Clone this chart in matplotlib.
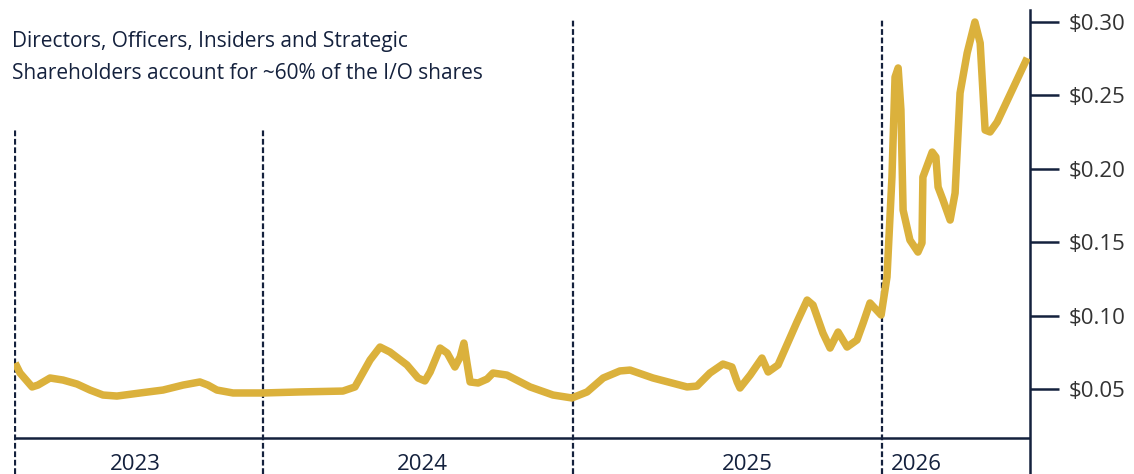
import matplotlib.pyplot as plt

plt.rcParams['font.family'] = ['Open Sans', 'DejaVu Sans']

# share price (decimal year, USD)
dates = [2023.199, 2023.215, 2023.254, 2023.273, 2023.312, 2023.354, 2023.399, 2023.441,
         2023.483, 2023.528, 2023.603, 2023.677, 2023.742, 2023.796, 2023.822, 2023.851,
         2023.903, 2024.000, 2024.120, 2024.258, 2024.297, 2024.346, 2024.378, 2024.410,
         2024.465, 2024.501, 2024.523, 2024.540, 2024.572, 2024.595, 2024.620, 2024.637,
         2024.649, 2024.659, 2024.669, 2024.695, 2024.724, 2024.743, 2024.788, 2024.863,
         2024.937, 2024.998, 2025.047, 2025.099, 2025.153, 2025.186, 2025.260, 2025.370,
         2025.402, 2025.444, 2025.486, 2025.515, 2025.532, 2025.541, 2025.574, 2025.612,
         2025.632, 2025.664, 2025.725, 2025.758, 2025.777, 2025.809, 2025.832, 2025.858,
         2025.887, 2025.919, 2025.939, 2025.961, 2025.997, 2026.016, 2026.032, 2026.042,
         2026.052, 2026.061, 2026.068, 2026.090, 2026.116, 2026.129, 2026.132, 2026.162,
         2026.174, 2026.181, 2026.197, 2026.220, 2026.236, 2026.252, 2026.275, 2026.300,
         2026.317, 2026.333, 2026.349, 2026.372, 2026.469]
prices = [0.0677, 0.0609, 0.0514, 0.0527, 0.0575, 0.0561, 0.0534, 0.0493,
          0.0459, 0.0452, 0.0473, 0.0493, 0.0527, 0.0548, 0.0527, 0.0493,
          0.0473, 0.0473, 0.0480, 0.0486, 0.0514, 0.0698, 0.0786, 0.0752,
          0.0664, 0.0575, 0.0555, 0.0616, 0.0779, 0.0745, 0.0650, 0.0718,
          0.0813, 0.0677, 0.0548, 0.0541, 0.0568, 0.0609, 0.0595, 0.0514,
          0.0459, 0.0439, 0.0480, 0.0575, 0.0623, 0.0629, 0.0575, 0.0514,
          0.0520, 0.0609, 0.0670, 0.0650, 0.0548, 0.0507, 0.0595, 0.0711,
          0.0616, 0.0664, 0.0956, 0.1106, 0.1072, 0.0881, 0.0779, 0.0888,
          0.0786, 0.0834, 0.0950, 0.1086, 0.1004, 0.1263, 0.1944, 0.2625,
          0.2687, 0.2401, 0.1719, 0.1515, 0.1433, 0.1495, 0.1944, 0.2114,
          0.2080, 0.1876, 0.1787, 0.1651, 0.1835, 0.2516, 0.2789, 0.3000,
          0.2857, 0.2264, 0.2251, 0.2319, 0.2755]

year_labels = ['2023', '2024', '2025', '2026']
year_label_x = [2023.586, 2024.514, 2025.564, 2026.110]
year_starts = [2024.0, 2025.0, 2026.0]
yticks = [0.05, 0.10, 0.15, 0.20, 0.25, 0.30]
note = ('Directors, Officers, Insiders and Strategic\n'
        'Shareholders account for ~60% of the I/O shares')

navy = '#14213d'
gold = '#dbb13c'

fig = plt.figure(figsize=(11.34, 4.74), dpi=100)
ax = fig.add_axes([14 / 1134, 0, 1016 / 1134, 464 / 474])
ax.set_xlim(2023.1955, 2026.478)
ax.set_ylim(-0.0079, 0.3082)

# year separators
ax.vlines([dates[0], year_starts[0]], -0.0079, 0.2278, colors=navy, lw=1.6,
          linestyles=(0, (2.6, 1.2)))
ax.vlines(year_starts[1:], -0.0079, 0.3027, colors=navy, lw=1.6,
          linestyles=(0, (2.6, 1.2)))

# x axis line
ax.hlines(0.0166, dates[0], 2026.478, colors=navy, lw=1.8)

ax.plot(dates, prices, color=gold, lw=5.4, solid_joinstyle='round',
        solid_capstyle='butt', zorder=3)

for lab, x in zip(year_labels, year_label_x):
    ax.text(x, -0.0011, lab, ha='center', va='center', fontsize=16, color=navy)

fig.text(12 / 1134, 0.935, note, ha='left', va='top',
         fontsize=15, color=navy, linespacing=1.72)

for s in ['left', 'top', 'bottom']:
    ax.spines[s].set_visible(False)
ax.spines['right'].set_color(navy)
ax.spines['right'].set_linewidth(1.8)
ax.yaxis.tick_right()
ax.set_yticks(yticks)
ax.set_yticklabels(['$%.2f' % v for v in yticks])
ax.tick_params(axis='y', direction='out', length=21, width=1.8, color=navy,
               labelsize=16, labelcolor='#333333', pad=7)
ax.set_xticks([])

fig.savefig('out.png', dpi=100)
